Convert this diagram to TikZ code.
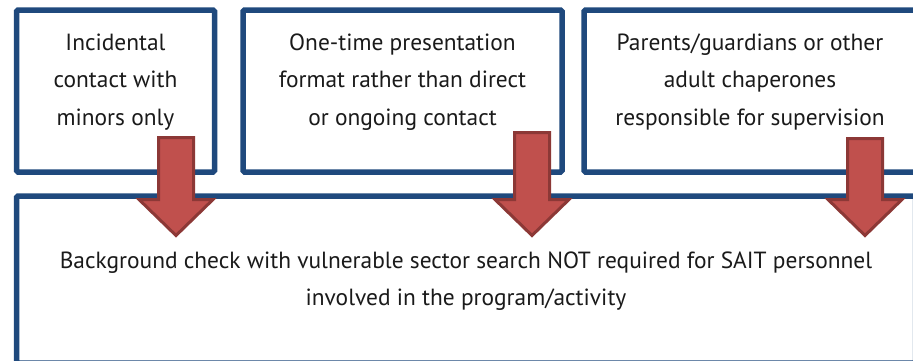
\documentclass[tikz,border=0pt]{standalone}
\usepackage{fontspec}
\setmainfont{PT Sans}
\definecolor{boxblue}{HTML}{1F497D}
\definecolor{arrfill}{HTML}{C0504D}
\definecolor{arrline}{HTML}{8C3836}
\definecolor{txt}{HTML}{1A1A1A}
\tikzset{
  infobox/.style={draw=boxblue, line width=5.5pt, fill=white, rounded corners=1.5pt,
    text=txt, align=center, inner sep=0pt},
  blockarr/.style={draw=arrline, fill=arrfill, line width=3pt, line join=miter},
}
\newcommand\mydownarrow[2]{% center x, top y
  \draw[blockarr] (#1-17.5,#2) -- (#1+17.5,#2) -- (#1+17.5,199.5) -- (#1+37,199.5)
    -- (#1,235.5) -- (#1-37,199.5) -- (#1-17.5,199.5) -- cycle;}
\begin{document}
\begin{tikzpicture}[x=1pt,y=-1pt, font=\fontsize{23.4}{37.5}\selectfont]
\useasboundingbox (0,0) rectangle (913,360);
\node[infobox, minimum width=198pt, minimum height=162pt] (b1) at (115.5,91) {};
\node[txt, align=center] (t1) at (115.5,82) {Incidental\\contact with\\minors only};
\node[infobox, minimum width=319pt, minimum height=162pt] (b2) at (402.5,91) {};
\node[txt, align=center] (t2) at (402.5,82) {One-time presentation\\format rather than direct\\or ongoing contact};
\node[infobox, minimum width=332pt, minimum height=162pt] (b3) at (750,91) {};
\node[txt, align=center] (t3) at (750,82) {Parents/guardians or other\\adult chaperones\\responsible for supervision};
\node[infobox, minimum width=899pt, minimum height=167pt] (b4) at (466,279.5) {};
\node[txt, align=center] (t4) at (466,281) {Background check with vulnerable sector search NOT required for SAIT personnel\\involved in the program/activity};
\mydownarrow{176}{137.5}
\mydownarrow{532}{132.5}
\mydownarrow{865}{138.5}
\end{tikzpicture}
\end{document}
